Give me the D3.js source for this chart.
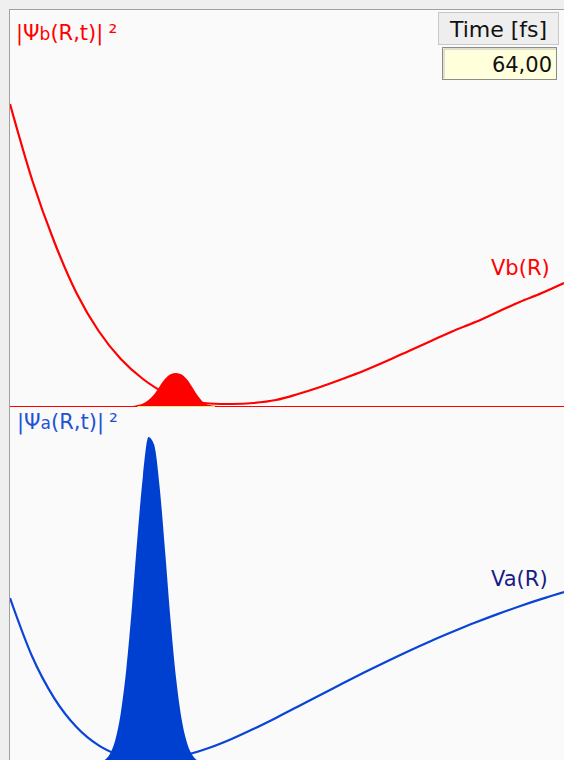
<!DOCTYPE html>
<html>
<head>
<meta charset="utf-8">
<script src="https://cdn.jsdelivr.net/npm/d3@7/dist/d3.min.js"></script>
<style>
  html, body { margin: 0; padding: 0; background: #efefef; }
  svg { display: block; font-family: "DejaVu Sans", Verdana, sans-serif; }
</style>
</head>
<body>
<svg id="chart"></svg>
<script>
// internuclear distance grid for the potentials (Angstrom)
const rGrid = [1.5, 1.7, 1.9, 2.1, 2.3, 2.5, 2.7, 2.9, 3.1, 3.3, 3.5, 3.7, 3.9,
  4.1, 4.3, 4.5, 4.7, 4.9, 5.1, 5.3, 5.5, 5.7, 5.9, 6.1, 6.3, 6.5];
// excited state potential Vb(R), eV
const vbValues = [3.02, 2.26, 1.64, 1.13, 0.75, 0.47, 0.27, 0.13, 0.055, 0.025, 0.02, 0.03, 0.06,
  0.12, 0.19, 0.27, 0.355, 0.45, 0.55, 0.65, 0.75, 0.84, 0.94, 1.04, 1.13, 1.23];
// ground state potential Va(R), eV
const vaValues = [1.66, 1.075, 0.657, 0.37, 0.186, 0.083, 0.042, 0.05, 0.093, 0.162, 0.25, 0.352, 0.461,
  0.575, 0.689, 0.804, 0.917, 1.026, 1.131, 1.231, 1.325, 1.415, 1.499, 1.578, 1.651, 1.719];

// grid for the wave packets
const rPsi = [2.20, 2.25, 2.30, 2.35, 2.40, 2.45, 2.50, 2.55, 2.60, 2.65, 2.70, 2.75, 2.80, 2.85,
  2.90, 2.95, 3.00, 3.05, 3.10, 3.15, 3.20, 3.25, 3.30, 3.35, 3.40, 3.45, 3.50];
const psiA = [0.000, 0.001, 0.004, 0.011, 0.030, 0.073, 0.156, 0.291, 0.478, 0.693, 0.882, 1.000, 0.977, 0.849,
  0.650, 0.437, 0.259, 0.135, 0.062, 0.025, 0.009, 0.003, 0.001, 0.000, 0.000, 0.000, 0.000];
const psiB = [0.000, 0.000, 0.000, 0.000, 0.000, 0.000, 0.000, 0.000, 0.000, 0.003, 0.008, 0.018, 0.035, 0.060,
  0.083, 0.097, 0.101, 0.096, 0.080, 0.055, 0.029, 0.010, 0.003, 0.001, 0.000, 0.000, 0.000];

const timeLabel = "Time [fs]";
const timeValue = "64,00";

const width = 564, height = 760;
const panelLeft = 10, panelTop = 10;
const splitY = 406, bottomBase = 764;

const svg = d3.select("#chart").attr("width", width).attr("height", height);

// frame
svg.append("rect").attr("x", 0).attr("y", 0).attr("width", width).attr("height", height).attr("fill", "#efefef");
svg.append("rect").attr("x", panelLeft).attr("y", panelTop)
  .attr("width", width - panelLeft).attr("height", height - panelTop).attr("fill", "#fafafa");
svg.append("line").attr("x1", 9.5).attr("x2", 9.5).attr("y1", 9).attr("y2", height)
  .attr("stroke", "#a0a0a0").attr("stroke-width", 1);
svg.append("line").attr("x1", 9).attr("x2", width).attr("y1", 9.5).attr("y2", 9.5)
  .attr("stroke", "#a0a0a0").attr("stroke-width", 1);

svg.append("clipPath").attr("id", "clipTop").append("rect")
  .attr("x", panelLeft).attr("y", panelTop).attr("width", width - panelLeft).attr("height", splitY - panelTop);
svg.append("clipPath").attr("id", "clipBottom").append("rect")
  .attr("x", panelLeft).attr("y", splitY).attr("width", width - panelLeft).attr("height", height - splitY);

const x = d3.scaleLinear().domain([1.5, 6.5]).range([panelLeft, width]);

const yTopE = d3.scaleLinear().domain([0, 3.96]).range([splitY, panelTop]);
const yTopPsi = d3.scaleLinear().domain([0, 1.211]).range([splitY, panelTop]);
const yBotE = d3.scaleLinear().domain([0, 3.58]).range([bottomBase, splitY]);
const yBotPsi = d3.scaleLinear().domain([0, 1.095]).range([bottomBase, splitY]);

function drawPanel(clipId, potential, yE, psi, yPsi, color, fillColor) {
  const g = svg.append("g").attr("clip-path", `url(#${clipId})`);
  const line = d3.line()
    .x((d, i) => x(rGrid[i]))
    .y(d => yE(d))
    .curve(d3.curveMonotoneX);
  g.append("path").datum(potential)
    .attr("d", line)
    .attr("fill", "none")
    .attr("stroke", color)
    .attr("stroke-width", 2.2);

  const area = d3.area()
    .x((d, i) => x(rPsi[i]))
    .y0(yPsi(0))
    .y1(d => yPsi(d))
    .curve(d3.curveMonotoneX);
  g.append("path").datum(psi)
    .attr("d", area)
    .attr("fill", fillColor);
  return g;
}

drawPanel("clipTop", vbValues, yTopE, psiB, yTopPsi, "#ff0000", "#ff0000");
drawPanel("clipBottom", vaValues, yBotE, psiA, yBotPsi, "#0844d6", "#0040d0");

// separator between the two states
svg.append("line").attr("x1", panelLeft).attr("x2", width)
  .attr("y1", splitY + 0.5).attr("y2", splitY + 0.5)
  .attr("stroke", "#ff0000").attr("stroke-width", 1);
const nz = psiB.map((v, i) => v > 0 ? i : -1).filter(i => i >= 0);
svg.append("line")
  .attr("x1", x(rPsi[nz[0]])).attr("x2", x(rPsi[nz[nz.length - 1]]))
  .attr("y1", splitY + 0.5).attr("y2", splitY + 0.5)
  .attr("stroke", "#e6e67a").attr("stroke-width", 1);

// labels
function psiLabel(xPos, yPos, sub, color) {
  const t = svg.append("text").attr("x", xPos).attr("y", yPos)
    .attr("fill", color).style("font-size", "21px");
  t.append("tspan").text("|\u03A8");
  t.append("tspan").style("font-size", "17px").text(sub);
  t.append("tspan").text("(R,t)|");
  t.append("tspan").attr("dx", 5).style("font-size", "22px").text("\u00B2");
}
psiLabel(16, 40, "b", "#ff0000");
psiLabel(17, 429, "a", "#1f52d6");

svg.append("text").attr("x", 491).attr("y", 275)
  .attr("fill", "#ff0000").style("font-size", "21px").text("Vb(R)");
svg.append("text").attr("x", 491).attr("y", 586)
  .attr("fill", "#1a1a88").style("font-size", "21px").text("Va(R)");

// time display
const tb = svg.append("g");
tb.append("rect").attr("x", 438.5).attr("y", 12.5).attr("width", 120).attr("height", 32)
  .attr("fill", "#eeeeee").attr("stroke", "#c8c8c8");
tb.append("text").attr("x", 498.5).attr("y", 37).attr("text-anchor", "middle")
  .attr("fill", "#111").style("font-size", "22px").text(timeLabel);
tb.append("rect").attr("x", 442.5).attr("y", 47.5).attr("width", 114).attr("height", 32)
  .attr("fill", "#ffffdc").attr("stroke", "#8c8c8c");
tb.append("path").attr("d", "M444,78.5 V49 H556")
  .attr("fill", "none").attr("stroke", "#c0c0c0");
tb.append("text").attr("x", 552).attr("y", 72).attr("text-anchor", "end")
  .attr("fill", "#111").style("font-size", "21px").text(timeValue);
</script>
</body>
</html>
